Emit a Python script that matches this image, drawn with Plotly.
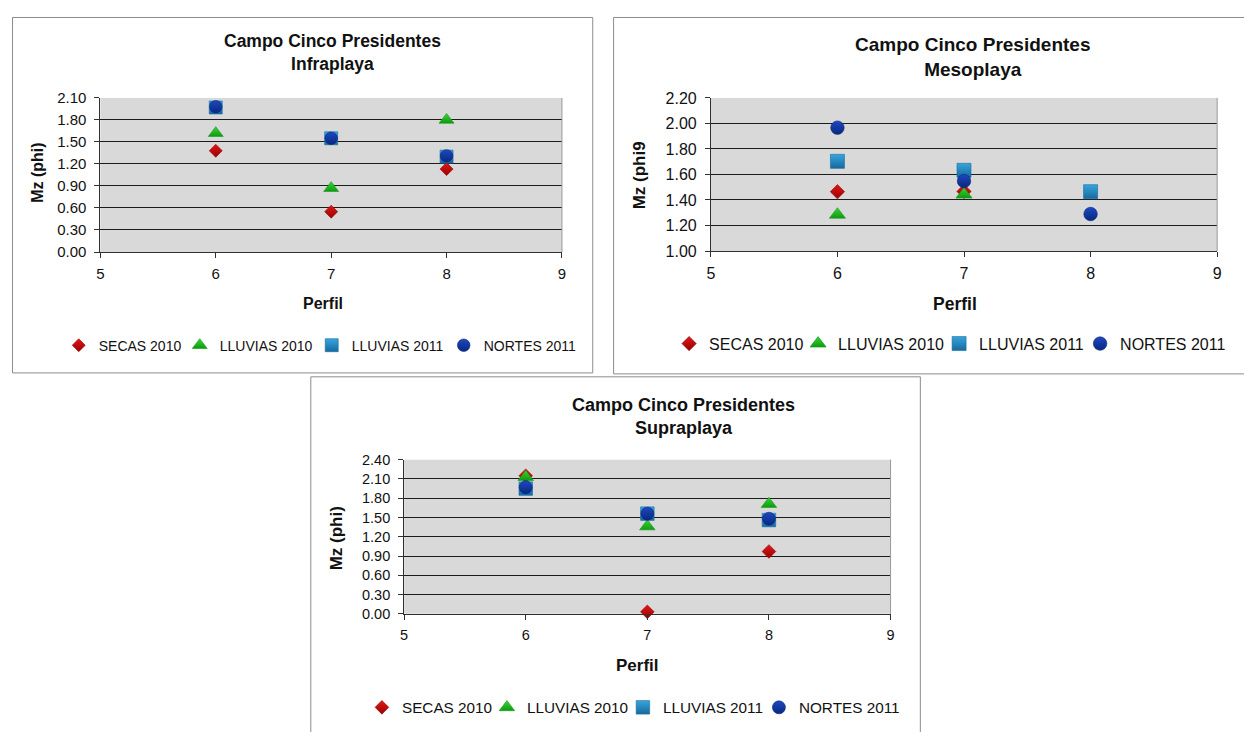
import plotly.graph_objects as go

# ---------------- data ----------------
perfil = [6, 7, 8]
series_names = ["SECAS 2010", "LLUVIAS 2010", "LLUVIAS 2011", "NORTES 2011"]

infra_secas_2010 = [1.38, 0.55, 1.13]
infra_lluvias_2010 = [1.62, 0.87, 1.80]
infra_lluvias_2011 = [1.97, 1.55, 1.30]
infra_nortes_2011 = [1.98, 1.55, 1.31]

meso_secas_2010 = [1.465, 1.467, None]
meso_lluvias_2010 = [1.285, 1.443, None]
meso_lluvias_2011 = [1.703, 1.633, 1.465]
meso_nortes_2011 = [1.967, 1.549, 1.29]

supra_secas_2010 = [2.15, 0.03, 0.97]
supra_lluvias_2010 = [2.13, 1.36, 1.71]
supra_lluvias_2011 = [1.95, 1.56, 1.46]
supra_nortes_2011 = [1.97, 1.56, 1.48]

x_tick_vals = [5, 6, 7, 8, 9]
infra_y_ticks = [0.00, 0.30, 0.60, 0.90, 1.20, 1.50, 1.80, 2.10]
meso_y_ticks = [1.00, 1.20, 1.40, 1.60, 1.80, 2.00, 2.20]
supra_y_ticks = [0.00, 0.30, 0.60, 0.90, 1.20, 1.50, 1.80, 2.10, 2.40]

titles = ["Campo Cinco Presidentes<br>Infraplaya",
          "Campo Cinco Presidentes<br>Mesoplaya",
          "Campo Cinco Presidentes<br>Supraplaya"]
y_titles = ["Mz (phi)", "Mz (phi9", "Mz (phi)"]
x_title = "Perfil"

# ---------------- styles ----------------
OFF = 8                      # default page body margin of the html output
FW, FH = 1252 - 2 * OFF, 740 - 2 * OFF
FONT = "Liberation Sans, Arial, sans-serif"

def fx(p):
    return (p - OFF) / FW

def fy(p):
    return 1 - (p - OFF) / FH

symbols = ["diamond", "triangle-up", "square", "circle"]
colors = ["#e01818", "#3ad43a", "#35a6dc", "#1e48c0"]
grad_colors = ["#9a0000", "#0f9a0f", "#17699f", "#08287f"]
# approximate text width of each legend label, in em (Arial metrics)
label_em = [5.892, 6.615, 6.615, 6.669]

panels = [
    dict(data=[infra_secas_2010, infra_lluvias_2010, infra_lluvias_2011, infra_nortes_2011],
         yticks=infra_y_ticks, plot=(97, 562, 91, 249), box=(8.5, 593, 8.5, 373),
         title=(331, 44, 17.5), ytitle=(33, 168, 16), xtitle=(321, 302, 16),
         legend=(320, 345, 14), tighten=6, tickfs=15, sizes=[10, 13, 13, 12.5]),
    dict(data=[meso_secas_2010, meso_lluvias_2010, meso_lluvias_2011, meso_nortes_2011],
         yticks=meso_y_ticks, plot=(712, 1222, 91, 248), box=(614, 1262, 8.5, 374),
         title=(976, 49.5, 19), ytitle=(641, 170, 17), xtitle=(958, 302, 17.5),
         legend=(955, 343, 16), tighten=10, tickfs=16, sizes=[11, 14, 14, 13.5]),
    dict(data=[supra_secas_2010, supra_lluvias_2010, supra_lluvias_2011, supra_nortes_2011],
         yticks=supra_y_ticks, plot=(403, 893, 462, 620), box=(309, 923, 377, 760),
         title=(684, 417.5, 18), ytitle=(335, 543, 17), xtitle=(638, 673, 17),
         legend=(636, 716, 15.3), tighten=10, tickfs=14.5, sizes=[10.5, 13.5, 13.5, 13]),
]

fig = go.Figure()
shapes = []
annotations = []
layout_extra = {}

for i, p in enumerate(panels):
    k = "" if i == 0 else str(i + 1)
    xa, ya = "x" + k, "y" + k
    leg = "legend" + k
    lx, ly, lfs = p["legend"]
    for j, name in enumerate(series_names):
        last = j == len(series_names) - 1
        lw = label_em[j] * lfs + (3 if last else -p["tighten"])
        fig.add_trace(go.Scatter(
            x=perfil, y=p["data"][j], name=name, mode="markers",
            xaxis=xa, yaxis=ya, legend=leg, cliponaxis=False,
            legendwidth=max(1, round(lw)),
            marker=dict(symbol=symbols[j], size=p["sizes"][j], color=colors[j],
                        gradient=dict(type="vertical", color=grad_colors[j]),
                        line=dict(width=0.6, color=grad_colors[j])),
        ))
    x0, x1, y0, y1 = p["plot"]
    yt = p["yticks"]
    layout_extra["xaxis" + k] = dict(
        domain=[fx(x0), fx(x1)], anchor=ya, range=[5, 9], tickvals=x_tick_vals,
        showgrid=False, zeroline=False, showline=True, linecolor="#303030", linewidth=1,
        ticks="outside", ticklen=5, tickcolor="#303030", ticklabelstandoff=3,
        tickfont=dict(family=FONT, size=p["tickfs"], color="#111"), fixedrange=True)
    layout_extra["yaxis" + k] = dict(
        domain=[fy(y1), fy(y0)], anchor=xa, range=[yt[0], yt[-1]], tickvals=yt,
        tickformat=".2f", showgrid=True, gridcolor="#1c1c1c", gridwidth=1,
        zeroline=False, showline=True, linecolor="#303030", linewidth=1,
        ticks="outside", ticklen=5, tickcolor="#303030", ticklabelstandoff=5,
        tickfont=dict(family=FONT, size=p["tickfs"], color="#111"), fixedrange=True)
    layout_extra[leg] = dict(
        orientation="h", x=fx(lx), y=fy(ly), xanchor="center", yanchor="middle",
        font=dict(family=FONT, size=lfs, color="#111"), bgcolor="rgba(0,0,0,0)",
        itemwidth=30, tracegroupgap=0, entrywidthmode="pixels")
    # panel border
    bx0, bx1, by0, by1 = p["box"]
    shapes.append(dict(type="rect", xref="paper", yref="paper",
                       x0=fx(bx0), x1=fx(bx1), y0=fy(by1), y1=fy(by0),
                       line=dict(color="#8c8c8c", width=1), fillcolor="rgba(0,0,0,0)",
                       layer="below"))
    # plot area right border
    shapes.append(dict(type="line", xref=xa + " domain", yref=ya + " domain",
                       x0=1, x1=1, y0=0, y1=1, line=dict(color="#9a9a9a", width=1)))
    tx, ty, tfs = p["title"]
    annotations.append(dict(text="<b>" + titles[i].replace("<br>", "</b><br><b>") + "</b>",
                            xref="paper", yref="paper", x=fx(tx), y=fy(ty),
                            xanchor="center", yanchor="middle", showarrow=False,
                            font=dict(family=FONT, size=tfs, color="#111")))
    ax_, ay_, afs = p["ytitle"]
    annotations.append(dict(text="<b>" + y_titles[i] + "</b>", textangle=-90,
                            xref="paper", yref="paper", x=fx(ax_), y=fy(ay_),
                            xanchor="center", yanchor="middle", showarrow=False,
                            font=dict(family=FONT, size=afs, color="#111")))
    px_, py_, pfs = p["xtitle"]
    annotations.append(dict(text="<b>" + x_title + "</b>",
                            xref="paper", yref="paper", x=fx(px_), y=fy(py_),
                            xanchor="center", yanchor="middle", showarrow=False,
                            font=dict(family=FONT, size=pfs, color="#111")))

fig.update_layout(
    width=FW, height=FH, margin=dict(l=0, r=0, t=0, b=0),
    paper_bgcolor="white", plot_bgcolor="#d9d9d9",
    font=dict(family=FONT, color="#111"),
    shapes=shapes, annotations=annotations, **layout_extra)

fig.write_html("out.html")
